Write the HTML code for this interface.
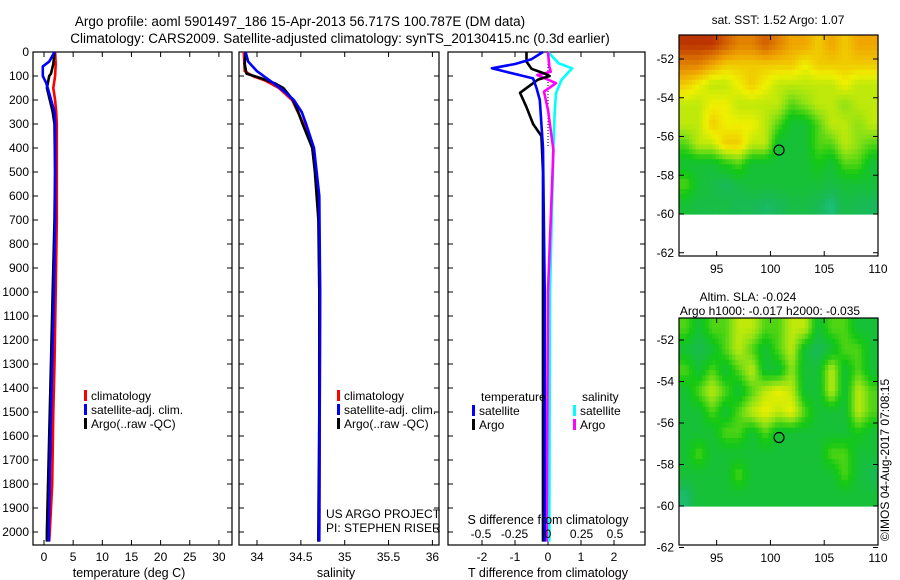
<!DOCTYPE html>
<html><head><meta charset="utf-8">
<style>
body{margin:0;background:#fff;}
svg{display:block;font-family:"Liberation Sans",sans-serif;}
text{fill:#000;}
</style></head>
<body>
<svg id="fig" width="900" height="580" viewBox="0 0 900 580" xmlns="http://www.w3.org/2000/svg">
<text x="300" y="26" font-size="13.5" text-anchor="middle">Argo profile: aoml 5901497_186 15-Apr-2013 56.717S 100.787E (DM data)</text>
<text x="340" y="43" font-size="13.5" text-anchor="middle">Climatology: CARS2009. Satellite-adjusted climatology: synTS_20130415.nc (0.3d earlier)</text>
<text x="778" y="24" font-size="12" text-anchor="middle">sat. SST: 1.52 Argo: 1.07</text>
<text x="748" y="301" font-size="12" text-anchor="middle">Altim. SLA: -0.024</text>
<text x="770" y="315" font-size="12" text-anchor="middle">Argo h1000: -0.017 h2000: -0.035</text>
<text x="0" y="0" font-size="12" text-anchor="middle" transform="translate(889,460) rotate(-90)">©IMOS 04-Aug-2017 07:08:15</text>
<g id="plots"></g>
</svg>
<script>
// ---- data ----
const depthTicks = [0,100,200,300,400,500,600,700,800,900,1000,1100,1200,1300,1400,1500,1600,1700,1800,1900,2000];
const tempTicks = [0,5,10,15,20,25,30];
const salTicks = [34,34.5,35,35.5,36];
const tdiffTicks = [-2,-1,0,1,2];
const sdiffTicks = [-0.5,-0.25,0,0.25,0.5];

const tClimDepth = [0,50,100,150,200,250,300,400,700,1000,1300,1500,1800,2000,2040];
const tClimVal   = [1.9,2.0,1.9,1.6,1.9,2.1,2.2,2.2,2.2,2.0,1.8,1.6,1.4,1.0,0.9];
const tArgoDepth = [0,50,90,100,150,200,250,300,500,700,1000,1500,2000,2040];
const tArgoVal   = [1.8,1.6,1.2,0.9,0.5,1.0,1.5,1.8,1.9,1.8,1.5,1.0,0.5,0.5];
const tSatDepth  = [0,40,60,100,130,180,250,300,700,1000,1500,2000,2040];
const tSatVal    = [1.8,0.9,-0.2,-0.2,0.4,1.0,1.8,1.9,1.9,1.7,1.2,0.8,0.8];

const sClimDepth = [0,80,100,120,150,200,300,400,600,1000,2000,2040];
const sClimVal   = [33.85,33.86,33.95,34.1,34.25,34.4,34.53,34.63,34.7,34.72,34.71,34.7];
const sArgoDepth = [0,50,90,110,130,150,200,250,300,400,500,700,1000,1500,2000,2040];
const sArgoVal   = [33.87,33.86,33.88,34.05,34.2,34.3,34.41,34.47,34.52,34.63,34.66,34.7,34.71,34.71,34.7,34.7];
const sSatDepth  = [0,40,80,120,160,200,250,300,400,600,1000,2000,2040];
const sSatVal    = [33.87,33.9,34.0,34.15,34.3,34.42,34.51,34.56,34.65,34.71,34.72,34.71,34.71];

const dTSatDepth = [0,30,50,68,85,110,150,200,400,1000,2000,2040];
const dTSatVal   = [-0.15,-0.5,-1.0,-1.7,-1.2,-0.45,-0.35,-0.25,-0.15,-0.1,-0.1,-0.1];
const dTArgoDepth = [0,40,70,90,100,115,140,170,200,230,300,350,500,1000,2000,2040];
const dTArgoVal   = [-0.65,-0.65,-0.5,-0.1,0.05,-0.3,-0.55,-0.85,-0.75,-0.65,-0.45,-0.2,-0.15,-0.15,-0.15,-0.15];
const dSSatDepth = [0,47,68,117,172,250,400,1000,2000,2040];
const dSSatVal   = [0.0,0.08,0.18,0.1,0.06,0.05,0.04,0.015,0.01,0.01];
const dSArgoDepth = [0,60,82,96,130,165,242,325,408,700,1000,2000,2040];
const dSArgoVal   = [0.0,0.01,0.02,-0.08,0.06,-0.03,0.0,0.02,0.04,0.02,0.0,-0.01,-0.01];

const mapLon = [91.5,110];
const mapLat = [-51,-60];
const sstGrid = [
[6,6,6,5.5,5,5,5.5,5,4.5,4.5,4,4.5,4,4.5,4.5],
[5,5,4.5,4,4,4,4,4,4,3.5,4,4,4,4,4],
[4,3.5,3,3,3.5,4,3.5,3,3,3,3,3,3.5,3,3],
[3,3,3.5,3.5,3,3,3,3,2,2.5,3,3,2.5,3,3],
[3,3,4,3.5,3.5,3.5,3,2,1,1,2,3,3,2.5,3],
[2,3,3,4,4,3,3,1,1,1,2,2,3,2.5,2],
[1,1,1,1.5,2,1,1,1,1,1,1.5,1,2,2,1],
[2,1,0.8,0.5,0.8,1,1,1,1,1,1,0.8,1,1,1],
[1,0.8,0.8,0.8,0.6,0.6,0.4,0.5,0.8,0.8,0.6,0.2,0.8,0.6,0.5]
];
const slaGrid = [
[2,1,2,2,3,3,2,2,3,3,1,2,2,1,1],
[1,0.6,1,2,3,2,1,2,3,1,0.5,1,2,2,1],
[2,1,2,1,2,3,1,1,2.5,1,1,3,1,2,1],
[1,2,3,2,1,2,3,3.5,3,1,1,3,1,3,2],
[1,1,2,1,2,3,3.5,3,3.5,2,1,1,1,3,2],
[1,1,1,2,2,1,2,1,1,1,1,1,1,1.5,1],
[1,2,1,1,1,1,1,1,1,1,1,2,2,1,1],
[1,1,1,1,2,1,1,1,1,1,1,1,2,1,0.6],
[0.3,1,1,1,1,1,1,1,1,1,1,1,1,1,1]
];
const floatLon = 100.8, floatLat = -56.7;
const latTicks = [-52,-54,-56,-58,-60,-62];
const lonTicks = [95,100,105,110];

// ---- drawing ----
const NS='http://www.w3.org/2000/svg';
const root=document.getElementById('plots');
function mk(tag,attrs,parent){const e=document.createElementNS(NS,tag);for(const k in attrs)e.setAttribute(k,attrs[k]);(parent||root).appendChild(e);return e;}
function txt(s,x,y,size,anchor,parent){const t=mk('text',{x:x,y:y,'font-size':size,'text-anchor':anchor||'middle'},parent);t.textContent=s;return t;}

const Y0=52, PY=0.24, YB=545;
const yD=d=>Y0+d*PY;

function frame(name,x0,x1,yt,yb){
  const g=mk('rect',{x:x0,y:yt,width:x1-x0,height:yb-yt,fill:'none',stroke:'#000','stroke-width':1.2});
  
  
}
function depthTickMarks(x0,x1,labels){
  depthTicks.forEach(d=>{
    const y=yD(d);
    mk('line',{x1:x0,y1:y,x2:x0+5,y2:y,stroke:'#000'});
    mk('line',{x1:x1,y1:y,x2:x1-5,y2:y,stroke:'#000'});
    if(labels){const t=txt(String(d),29,y+4,12,'end');
      
      }
  });
}
function profile(name,depths,vals,xf,color,w){
  const pts=depths.map((d,i)=>xf(vals[i]).toFixed(1)+','+yD(d).toFixed(1)).join(' ');
  const e=mk('polyline',{points:pts,fill:'none',stroke:color,'stroke-width':w||2.6,'stroke-linejoin':'round'});
  
  
}
function legendEntry(name,x,y,color,label){
  const g=mk('g',{});
  
  
  mk('rect',{x:x,y:y-10,width:3,height:11,fill:color},g);
  txt(label,x+7,y,12,'start',g);
}

// Panel 1: temperature
const P1=[33,232];
const xT=v=>44+5.83*v;
frame('temperature-panel',P1[0],P1[1],Y0,YB);
depthTickMarks(P1[0],P1[1],true);
tempTicks.forEach(v=>{const x=xT(v);
  mk('line',{x1:x,y1:Y0,x2:x,y2:Y0+5,stroke:'#000'});mk('line',{x1:x,y1:YB,x2:x,y2:YB-5,stroke:'#000'});
  const t=txt(String(v),x,561,12);
  
  });
profile('temperature-climatology-line',tClimDepth,tClimVal,xT,'#ff0000');
profile('temperature-argo-line',tArgoDepth,tArgoVal,xT,'#000000');
profile('temperature-satellite-line',tSatDepth,tSatVal,xT,'#0000ff');
legendEntry('legend-climatology',84,400,'#ff0000','climatology');
legendEntry('legend-satellite-adj',84,414,'#0000ff','satellite-adj. clim.');
legendEntry('legend-argo',84,428,'#000000','Argo(..raw -QC)');
{const t=txt('temperature (deg C)',129,577,12.5);}

// Panel 2: salinity
const P2=[239,439];
const xS=v=>257+87.7*(v-34);
frame('salinity-panel',P2[0],P2[1],Y0,YB);
depthTickMarks(P2[0],P2[1],false);
salTicks.forEach(v=>{const x=xS(v);
  mk('line',{x1:x,y1:Y0,x2:x,y2:Y0+5,stroke:'#000'});mk('line',{x1:x,y1:YB,x2:x,y2:YB-5,stroke:'#000'});
  const t=txt(String(v),x,561,12);
  
  });
profile('salinity-climatology-line',sClimDepth,sClimVal,xS,'#ff0000');
profile('salinity-argo-line',sArgoDepth,sArgoVal,xS,'#000000');
profile('salinity-satellite-line',sSatDepth,sSatVal,xS,'#0000ff');
legendEntry('legend-climatology-2',337,400,'#ff0000','climatology');
legendEntry('legend-satellite-adj-2',337,414,'#0000ff','satellite-adj. clim.');
legendEntry('legend-argo-2',337,428,'#000000','Argo(..raw -QC)');
{const t=txt('US ARGO PROJECT',326,518,12,'start');
 const u=txt('PI: STEPHEN RISER',326,532,12,'start');
 const s=txt('salinity',336,577,12.5);}

// Panel 3: differences
const P3=[448,645];
const xdT=v=>548+33*v;
const xdS=v=>548+134*v;
frame('difference-panel',P3[0],P3[1],Y0,YB);
depthTickMarks(P3[0],P3[1],false);
tdiffTicks.forEach(v=>{const x=xdT(v);
  mk('line',{x1:x,y1:Y0,x2:x,y2:Y0+5,stroke:'#000'});mk('line',{x1:x,y1:YB,x2:x,y2:YB-5,stroke:'#000'});
  const t=txt(String(v),x,561,12);
  
  });
mk('line',{x1:xdT(0),y1:Y0,x2:xdT(0),y2:yD(400),stroke:'#000','stroke-dasharray':'1,2'});
profile('sdiff-satellite-line',dSSatDepth,dSSatVal,xdS,'#00ffff');
profile('sdiff-argo-line',dSArgoDepth,dSArgoVal,xdS,'#ff00ff');
profile('tdiff-argo-line',dTArgoDepth,dTArgoVal,xdT,'#000000');
profile('tdiff-satellite-line',dTSatDepth,dTSatVal,xdT,'#0000ff');
{const t=txt('temperature',481,401,12,'start');
 const s=txt('salinity',582,401,12,'start');}
legendEntry('legend-tdiff-satellite',472,415,'#0000ff','satellite');
legendEntry('legend-tdiff-argo',472,429,'#000000','Argo');
legendEntry('legend-sdiff-satellite',573,415,'#00ffff','satellite');
legendEntry('legend-sdiff-argo',573,429,'#ff00ff','Argo');
{const t=txt('S difference from climatology',548,524,12.5);}
sdiffTicks.forEach(v=>{const t=txt(String(v),xdS(v),538,12);
  
  });
{const t=txt('T difference from climatology',548,577,12.5);}

// Maps
const pal=[[30,205,200],[25,185,90],[20,200,20],[140,225,20],[240,240,0],[240,165,0],[210,95,0],[165,10,0]];
function col(v){const u=Math.max(0,Math.min(6.99,v+0.5));const i=Math.floor(u),f=u-i;const a=pal[i],b=pal[i+1];
  return 'rgb('+a.map((c,k)=>Math.round(c+(b[k]-c)*f)).join(',')+')';}
function sample(grid,r,c){ // bilinear sample, r/c in cell-center coords
  const R=grid.length,C=grid[0].length;
  r=Math.max(0,Math.min(R-1,r));c=Math.max(0,Math.min(C-1,c));
  const r0=Math.floor(r),c0=Math.floor(c),r1=Math.min(R-1,r0+1),c1=Math.min(C-1,c0+1),fr=r-r0,fc=c-c0;
  return (grid[r0][c0]*(1-fc)+grid[r0][c1]*fc)*(1-fr)+(grid[r1][c0]*(1-fc)+grid[r1][c1]*fc)*fr;
}
function drawMap(name,grid,yTop,yM52,yM60,yBot){
  const x0=679,x1=878;
  const xL=lon=>x0+(lon-91.5)*(x1-x0)/(110-91.5);
  const ppd=(yM60-yM52)/8;
  const yL=lat=>yM52+(-52-lat)*ppd;
  const g=mk('g',{});
  
  
  const rows=grid.length, cols=grid[0].length, SUB=4;
  const dLon=(mapLon[1]-mapLon[0])/cols;
  const latTop=-52+(yM52-yTop)/ppd;
  const dLat=(latTop-mapLat[1])/rows;
  for(let r=0;r<rows*SUB;r++)for(let c=0;c<cols*SUB;c++){
    const v=sample(grid,(r+0.5)/SUB-0.5,(c+0.5)/SUB-0.5);
    const xa=xL(mapLon[0]+c*dLon/SUB), xb=xL(mapLon[0]+(c+1)*dLon/SUB);
    const ya=yL(latTop-r*dLat/SUB), yb=yL(latTop-(r+1)*dLat/SUB);
    const cell=mk('rect',{x:xa.toFixed(1),y:ya.toFixed(1),width:(xb-xa+0.6).toFixed(1),height:(yb-ya+0.6).toFixed(1),fill:col(v)},g);
    
    
  }
  mk('rect',{x:x0,y:yTop,width:x1-x0,height:yBot-yTop,fill:'none',stroke:'#000','stroke-width':1.2});
  latTicks.forEach(l=>{const y=yL(l);
    mk('line',{x1:x0,y1:y,x2:x0+5,y2:y,stroke:'#000'});mk('line',{x1:x1,y1:y,x2:x1-5,y2:y,stroke:'#000'});
    const t=txt(String(l),674,y+4,12,'end');
    
    });
  lonTicks.forEach(l=>{const x=xL(l);
    mk('line',{x1:x,y1:yTop,x2:x,y2:yTop+5,stroke:'#000'});mk('line',{x1:x,y1:yBot,x2:x,y2:yBot-5,stroke:'#000'});
    const t=txt(String(l),x,yBot+17,12);
    
    });
  const m=mk('ellipse',{cx:xL(floatLon),cy:yL(floatLat),rx:5,ry:5,fill:'none',stroke:'#000','stroke-width':1.2});
  
  
}
drawMap('sst-map',sstGrid,35,59,214,256);
drawMap('sla-map',slaGrid,318,340,506,545);
</script>
</body></html>
